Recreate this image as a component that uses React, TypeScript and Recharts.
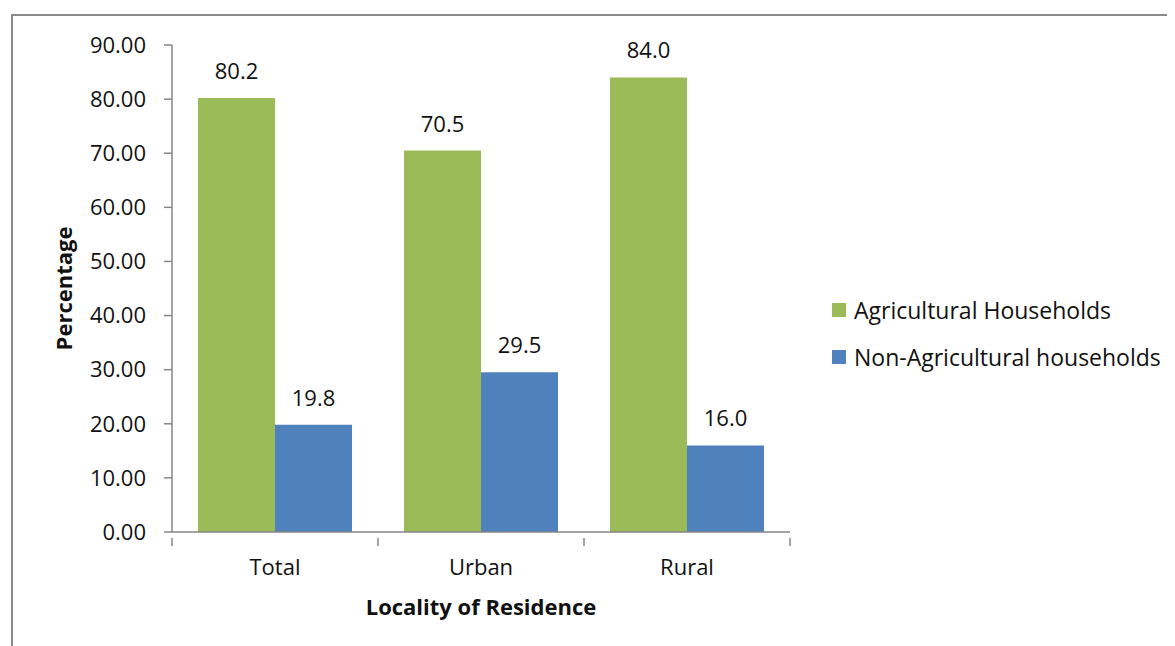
import React from "react"
import { BarChart, Bar, XAxis, YAxis, Legend, LabelList, Label } from "recharts"

const categories = ["Total", "Urban", "Rural"]
const agricultural = [80.2, 70.5, 84.0]
const nonAgricultural = [19.8, 29.5, 16.0]
const yTicks = [0, 10, 20, 30, 40, 50, 60, 70, 80, 90]

const GREEN = "#9BBB59"
const BLUE = "#4F81BD"
const AXIS = "#868686"
const FONT = "'Open Sans', sans-serif"

const W = 1160
const H = 630
const margin = { top: 37, right: 378, bottom: 66, left: 0 }
const Y_AXIS_W = 164
const BAND = (W - margin.left - margin.right - Y_AXIS_W) / categories.length
const X_TICK_GAP = 21

const data = categories.map((name, i) => ({
  name,
  agri: agricultural[i],
  nonAgri: nonAgricultural[i],
}))

// category label plus boundary tick marks (ticks sit between groups, not under them)
function CategoryTick(props: any) {
  const { x, y, payload, index } = props
  const left = x - BAND / 2
  const right = x + BAND / 2
  const top = y - X_TICK_GAP
  return (
    <g>
      <line x1={left} y1={top} x2={left} y2={top + 8} stroke={AXIS} strokeWidth={1.5} />
      {index === categories.length - 1 && (
        <line x1={right} y1={top} x2={right} y2={top + 8} stroke={AXIS} strokeWidth={1.5} />
      )}
      <text x={x} y={y} dy="0.71em" textAnchor="middle" fill="#111" fontSize={22} fontFamily={FONT}>
        {payload.value}
      </text>
    </g>
  )
}

function LegendBox(props: any) {
  const items = props.payload || []
  return (
    <div style={{ fontFamily: FONT, fontSize: 23, color: "#111", whiteSpace: "nowrap" }}>
      {items.map((it: any) => (
        <div key={it.value} style={{ display: "flex", alignItems: "center", height: 47 }}>
          <span
            style={{
              width: 14,
              height: 14,
              flexShrink: 0,
              background: it.color,
              display: "inline-block",
              marginRight: 8,
            }}
          />
          <span>{it.value}</span>
        </div>
      ))}
    </div>
  )
}

export default function App() {
  return (
    <div style={{ position: "relative", width: 1167, height: 638, overflow: "hidden" }}>
      <div
        style={{
          position: "absolute",
          left: 3,
          top: 6,
          width: 1300,
          height: 800,
          border: "2px solid #8a8a8a",
          boxSizing: "border-box",
        }}
      />
      <div style={{ position: "absolute", left: 0, top: 0 }}>
        <BarChart
          width={W}
          height={H}
          data={data}
          margin={margin}
          barCategoryGap={26}
          barGap={0}
        >
          <XAxis
            dataKey="name"
            axisLine={{ stroke: AXIS, strokeWidth: 1.5 }}
            tickLine={false}
            tickMargin={X_TICK_GAP}
            height={40}
            tick={<CategoryTick />}
          >
            <Label
              content={(p: any) => {
                const vb = p.viewBox
                return (
                  <text
                    x={vb.x + vb.width / 2}
                    y={598}
                    textAnchor="middle"
                    dominantBaseline="central"
                    fontFamily={FONT}
                    fontSize={22}
                    fontWeight="bold"
                    fill="#111"
                  >
                    Locality of Residence
                  </text>
                )
              }}
            />
          </XAxis>
          <YAxis
            width={Y_AXIS_W}
            domain={[0, 90]}
            ticks={yTicks}
            interval={0}
            tickFormatter={(v: number) => v.toFixed(2)}
            axisLine={{ stroke: AXIS, strokeWidth: 1.5 }}
            tickLine={{ stroke: AXIS, strokeWidth: 1.5 }}
            tickSize={8}
            tickMargin={18}
            tick={{ fontSize: 22, fontFamily: FONT, fill: "#111" }}
          >
            <Label
              content={(p: any) => {
                const vb = p.viewBox
                const cx = 55
                const cy = vb.y + vb.height / 2
                return (
                  <text
                    x={cx}
                    y={cy}
                    transform={`rotate(-90, ${cx}, ${cy})`}
                    textAnchor="middle"
                    dominantBaseline="central"
                    fontFamily={FONT}
                    fontSize={22}
                    fontWeight="bold"
                    fill="#111"
                  >
                    Percentage
                  </text>
                )
              }}
            />
          </YAxis>
          <Legend
            layout="vertical"
            align="right"
            verticalAlign="middle"
            content={<LegendBox />}
            wrapperStyle={{ position: "absolute", left: 824, top: 278, width: 0, height: 0, overflow: "visible" }}
          />
          <Bar dataKey="agri" name="Agricultural Households" fill={GREEN} isAnimationActive={false}>
            <LabelList
              dataKey="agri"
              position="top"
              offset={19}
              formatter={(v: any) => Number(v).toFixed(1)}
              style={{ fontSize: 22, fontFamily: FONT, fill: "#111" }}
            />
          </Bar>
          <Bar dataKey="nonAgri" name="Non-Agricultural households" fill={BLUE} isAnimationActive={false}>
            <LabelList
              dataKey="nonAgri"
              position="top"
              offset={19}
              formatter={(v: any) => Number(v).toFixed(1)}
              style={{ fontSize: 22, fontFamily: FONT, fill: "#111" }}
            />
          </Bar>
        </BarChart>
      </div>
    </div>
  )
}
